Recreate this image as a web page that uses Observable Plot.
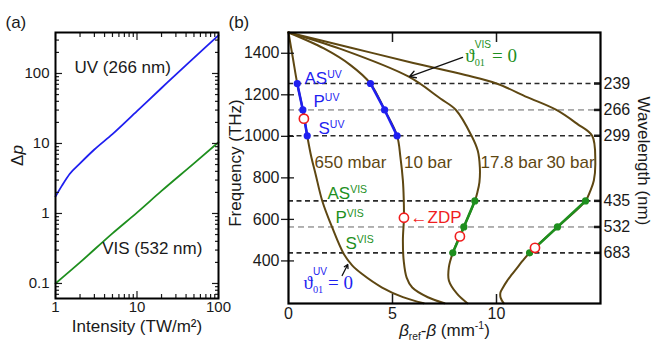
<!DOCTYPE html>
<html>
<head>
<meta charset="utf-8">
<script src="https://cdn.jsdelivr.net/npm/d3@7"></script>
<script src="https://cdn.jsdelivr.net/npm/@observablehq/plot@0.6"></script>
<style>
  html, body { margin: 0; padding: 0; background: #fff; }
  #fig { position: relative; width: 652px; height: 354px; overflow: hidden; background: #fff; }
  #fig > svg { position: absolute; top: 0; overflow: visible; }
</style>
</head>
<body>
<div id="fig"></div>
<script>
// ---------------- Panel (a) data ----------------
const intensityUV  = [1, 1.2, 1.5, 2, 3, 5, 10, 20, 40, 70, 100];
const deltaPUV     = [1.75, 2.5, 3.7, 5.2, 8.2, 13.6, 29, 62, 132, 240, 350];
const intensityVIS = [1, 2, 5, 10, 20, 50, 100];
const deltaPVIS    = [0.1, 0.2, 0.52, 1.03, 2.1, 5.2, 10.4];
const ticksIntensity = [1, 10, 100];
const ticksDeltaP    = [0.1, 1, 10, 100];
const seriesLabelsA  = ["UV (266 nm)", "VIS (532 nm)"];
const seriesLabelI   = [1.71, 3.74];
const seriesLabelP   = [122, 0.313];

// ---------------- Panel (b) data ----------------
const wavelengths   = [239, 266, 299, 435, 532, 683];      // nm (right axis)
const thickLines    = [239, 299, 435, 683];
const thinLines     = [266, 532];
const freqTicks     = [400, 600, 800, 1000, 1200, 1400];   // THz
const betaTicks     = [0, 5, 10];

// brown curves (x = beta_ref - beta in mm^-1, f = frequency in THz)
const p650X = [0, 0.21, 0.42, 0.69, 0.9, 1.1, 1.3, 1.62, 2.1, 2.66, 3.05, 3.54, 4.5, 5.5, 6.5];
const p650F = [1500, 1377, 1254.4, 1127, 1002.6, 899, 819, 690, 561, 433, 380, 337, 272, 226, 196];
const p10X  = [0, 1.7, 2.98, 3.94, 4.62, 5.22, 5.38, 5.5, 5.54, 5.55, 5.5, 5.54, 5.68, 5.95, 6.7, 7.5];
const p10F  = [1500, 1423, 1343, 1254.4, 1127, 1002.6, 900, 787, 700, 608, 500, 400, 320, 272, 225, 196];
const p178X = [0, 2.5, 5.78, 7.3, 8.05, 8.8, 9.1, 9.2, 9.18, 9.08, 8.96, 8.43, 7.9, 7.71, 7.71, 8.1, 8.6];
const p178F = [1500, 1421, 1287, 1182, 1127, 1002.6, 930, 850, 780, 730, 689.2, 563.5, 438.9, 370, 306, 242, 196];
const p30X  = [0, 3, 6, 8.5, 10.0, 11.47, 12.88, 13.88, 14.6, 14.75, 14.68, 14.5, 14.28, 12.93, 11.59, 11.25, 11.0, 10.7, 10.51, 10.3, 10.19, 10.2, 10.35];
const p30F  = [1500, 1427, 1353, 1295, 1254.4, 1189, 1127, 1060, 1002.6, 880, 787, 735, 689.2, 563.5, 438.9, 400, 368, 330, 304, 270, 248, 222, 196];

// phase-matched points (UV on 650 mbar & 10 bar, VIS on 17.8 bar & 30 bar)
const uvWaves  = [239, 266, 299];
const visWaves = [435, 532, 683];
const uv650X  = [0.42, 0.69, 0.9];
const uv10X   = [3.94, 4.62, 5.22];
const vis178X = [8.96, 8.43, 7.9];
const vis30X  = [14.28, 12.93, 11.59];

// zero-dispersion points (open red circles)
const zdpX = [0.74, 5.55, 8.24, 11.85];
const zdpF = [1085, 608, 518, 463];

// annotations (anchor positions in data units)
const uvText   = ["AS^{UV}", "P^{UV}", "S^{UV}"];
const uvTextX  = [0.77, 1.2, 1.44];
const uvTextF  = [1278, 1167, 1037];
const visText  = ["AS^{VIS}", "P^{VIS}", "S^{VIS}"];
const visTextX = [1.875, 2.26, 2.74];
const visTextF = [724, 608, 483];
const pressText  = ["650 mbar", "10 bar", "17.8 bar", "30 bar"];
const pressTextX = [1.25, 5.55, 9.23, 12.4];
const pressTextF = [874, 874, 874, 874];
const zdpLabel = {t: "←ZDP", x: 5.87, f: 608};
const thetaUV  = {t: "ϑ&{UV|01}= 0", x: 0.72, f: 296};
const thetaVIS = {t: "ϑ&{VIS|01}= 0", x: 8.5, f: 1389};
const arrowVIS = {x1: 8.37, f1: 1380, x2: 5.82, f2: 1288};
const arrowUV  = {x1: 2.58, f1: 330, x2: 2.85, f2: 383};

// ---------------- helpers ----------------
const C_NM_THZ = 299792.458;                 // c in nm·THz
const toF = w => C_NM_THZ / w;
const rows = (xs, fs) => xs.map((x, i) => ({x, f: fs[i]}));
const rowsT = (ts, xs, fs) => ts.map((t, i) => ({t, x: xs[i], f: fs[i]}));

const SANS  = '"Liberation Sans", Arimo, Arial, sans-serif';
const SERIF = '"Liberation Serif", "DejaVu Serif", serif';
const BROWN = "#5e4712", BLUE = "#1f1ff0", GREEN = "#1e8f1e", RED = "#f01e1e";
const DARK = "#1a1a1a";

const fig = document.getElementById("fig");

// ---------------- Panel (a) ----------------
const minorIntensity = [2,3,4,5,6,7,8,9].flatMap(m => [m, m * 10]);
const minorDeltaP = [0.01, 0.1, 1, 10, 100]
  .flatMap(p => [2,3,4,5,6,7,8,9].map(m => +(m * p).toPrecision(3)))
  .filter(v => v > 0.061 && v < 385);
const tk = {stroke: DARK, strokeWidth: 1.2, fill: "none", label: null};

const plotA = Plot.plot({
  width: 230, height: 354,
  marginLeft: 55, marginRight: 12, marginTop: 32, marginBottom: 56,
  style: {fontFamily: SANS, fontSize: "15px", color: DARK, background: "transparent", overflow: "visible"},
  x: {type: "log", domain: [1, 100], axis: null},
  y: {type: "log", domain: [0.061, 385], axis: null},
  marks: [
    Plot.line(rows(intensityUV, deltaPUV), {x: "x", y: "f", stroke: BLUE, strokeWidth: 1.8, curve: "monotone-x"}),
    Plot.line(rows(intensityVIS, deltaPVIS), {x: "x", y: "f", stroke: GREEN, strokeWidth: 1.8, curve: "monotone-x"}),
    Plot.text(rowsT(seriesLabelsA, seriesLabelI, seriesLabelP), {x: "x", y: "f", text: "t", textAnchor: "start", fontSize: 17, fill: DARK}),
    Plot.axisX({...tk, ticks: ticksIntensity, anchor: "bottom", tickSize: 7, dy: -7}),
    Plot.axisX({...tk, ticks: minorIntensity, anchor: "bottom", tickSize: 4, dy: -4}),
    Plot.axisX({...tk, ticks: ticksIntensity, anchor: "top", tickSize: 7, dy: 7}),
    Plot.axisX({...tk, ticks: minorIntensity, anchor: "top", tickSize: 4, dy: 4}),
    Plot.axisY({...tk, ticks: ticksDeltaP, anchor: "left", tickSize: 7, dx: 7}),
    Plot.axisY({...tk, ticks: minorDeltaP, anchor: "left", tickSize: 4, dx: 4}),
    Plot.axisY({...tk, ticks: ticksDeltaP, anchor: "right", tickSize: 7, dx: -7}),
    Plot.axisY({...tk, ticks: minorDeltaP, anchor: "right", tickSize: 4, dx: -4}),
    Plot.axisX({ticks: ticksIntensity, anchor: "bottom", tickSize: 0, tickPadding: 3, tickFormat: d => String(d), label: null, fontSize: 15}),
    Plot.axisY({ticks: ticksDeltaP, anchor: "left", tickSize: 0, tickPadding: 6, tickFormat: d => String(d), label: null, fontSize: 15}),
    Plot.frame({stroke: "#000", strokeWidth: 2}),
    Plot.text(["Intensity (TW/m²)"], {text: d => d, frameAnchor: "bottom", textAnchor: "middle", dy: 33, fontSize: 17, fill: DARK}),
    Plot.text(["Δ*{p}"], {text: d => d, frameAnchor: "left", textAnchor: "middle", dx: -38, dy: -10, rotate: -90, fontSize: 17, fill: DARK}),
    Plot.text(["(a)"], {text: d => d, frameAnchor: "top-left", dx: -50, dy: -17, textAnchor: "start", fontSize: 17, fill: DARK})
  ]
});
plotA.style.left = "0px";
fig.append(plotA);

// ---------------- Panel (b) ----------------
const waveLabel = new Map(wavelengths.map(w => [toF(w), String(w)]));
const plotB = Plot.plot({
  width: 422, height: 354,
  marginLeft: 58, marginRight: 52, marginTop: 32, marginBottom: 51,
  style: {fontFamily: SANS, fontSize: "16px", color: DARK, background: "transparent", overflow: "visible"},
  x: {domain: [0, 15], axis: null},
  y: {domain: [195, 1500], axis: null},
  marks: [
    Plot.ruleY(thickLines, {y: toF, stroke: "#2a2a2a", strokeWidth: 1.6, strokeDasharray: "5,3.5"}),
    Plot.ruleY(thinLines, {y: toF, stroke: "#555", strokeWidth: 0.9, strokeDasharray: "6,4"}),
    Plot.line(rows(p650X, p650F), {x: "x", y: "f", stroke: BROWN, strokeWidth: 2, curve: "catmull-rom"}),
    Plot.line(rows(p10X, p10F), {x: "x", y: "f", stroke: BROWN, strokeWidth: 2, curve: "catmull-rom"}),
    Plot.line(rows(p178X, p178F), {x: "x", y: "f", stroke: BROWN, strokeWidth: 2, curve: "catmull-rom"}),
    Plot.line(rows(p30X, p30F), {x: "x", y: "f", stroke: BROWN, strokeWidth: 2, curve: "catmull-rom"}),
    ...[[uv650X, uvWaves, BLUE], [uv10X, uvWaves, BLUE], [vis178X, visWaves, GREEN], [vis30X, visWaves, GREEN]].flatMap(([xs, ws, c]) => [
      Plot.line(rows(xs, ws.map(toF)), {x: "x", y: "f", stroke: c, strokeWidth: 2.6}),
      Plot.dot(rows(xs, ws.map(toF)), {x: "x", y: "f", r: 3.6, fill: c})
    ]),
    Plot.dot(rows(zdpX, zdpF), {x: "x", y: "f", r: 4.6, fill: "white", stroke: RED, strokeWidth: 1.6}),
    Plot.arrow([arrowVIS], {x1: "x1", y1: "f1", x2: "x2", y2: "f2", stroke: "#111", strokeWidth: 1.3, headLength: 8}),
    Plot.arrow([arrowUV], {x1: "x1", y1: "f1", x2: "x2", y2: "f2", stroke: "#111", strokeWidth: 1.3, headLength: 6}),
    Plot.text(rowsT(uvText, uvTextX, uvTextF), {x: "x", y: "f", text: "t", textAnchor: "start", fontSize: 17, fill: BLUE}),
    Plot.text(rowsT(visText, visTextX, visTextF), {x: "x", y: "f", text: "t", textAnchor: "start", fontSize: 17, fill: GREEN}),
    Plot.text(rowsT(pressText, pressTextX, pressTextF), {x: "x", y: "f", text: "t", textAnchor: "start", fontSize: 17, fill: BROWN}),
    Plot.text([zdpLabel], {x: "x", y: "f", text: "t", textAnchor: "start", fontSize: 17, fill: RED}),
    Plot.text([thetaUV], {x: "x", y: "f", text: "t", textAnchor: "start", fontSize: 19, fontFamily: SERIF, fill: BLUE}),
    Plot.text([thetaVIS], {x: "x", y: "f", text: "t", textAnchor: "start", fontSize: 19, fontFamily: SERIF, fill: GREEN}),
    // axes
    Plot.axisY({stroke: DARK, fill: "none", label: null, ticks: freqTicks, anchor: "left", tickSize: 13, dx: 6, strokeWidth: 1.3}),
    Plot.axisY({ticks: freqTicks, anchor: "left", tickSize: 0, tickPadding: 9, tickFormat: d => String(d), label: null, fontSize: 16}),
    Plot.axisX({stroke: DARK, fill: "none", label: null, ticks: [5, 10], anchor: "bottom", tickSize: 9, dy: -9, strokeWidth: 1.5}),
    Plot.axisX({stroke: DARK, fill: "none", label: null, ticks: [5, 10], anchor: "top", tickSize: 9, dy: 9, strokeWidth: 1.5}),
    Plot.axisX({ticks: betaTicks, anchor: "bottom", tickSize: 0, tickPadding: 4, tickFormat: d => String(d), label: null, fontSize: 16}),
    Plot.axisY({stroke: DARK, fill: "none", label: null, ticks: wavelengths.map(toF), anchor: "right", tickSize: 7, dx: -7, strokeWidth: 2.5}),
    Plot.axisY({ticks: wavelengths.map(toF), anchor: "right", tickSize: 0, tickPadding: 3, tickFormat: f => waveLabel.get(f), label: null, fontSize: 16}),
    Plot.frame({stroke: "#000", strokeWidth: 2.2}),
    Plot.text(["Frequency (THz)"], {text: d => d, frameAnchor: "left", textAnchor: "middle", dx: -53, dy: -5, rotate: -90, fontSize: 17, fill: DARK}),
    Plot.text(["Wavelength (nm)"], {text: d => d, frameAnchor: "right", textAnchor: "middle", dx: 43, dy: -7, rotate: 90, fontSize: 17, fill: DARK}),
    Plot.text(["*{β}_{ref}-*{β} (mm^{-1})"], {text: d => d, frameAnchor: "bottom", textAnchor: "middle", dy: 32, fontSize: 17, fill: DARK}),
    Plot.text(["(b)"], {text: d => d, frameAnchor: "top-left", dx: -60, dy: -17, textAnchor: "start", fontSize: 17, fill: DARK})
  ]
});
plotB.style.left = "230px";
fig.append(plotB);

// ---------------- rich text (super/subscripts, stacked scripts, italics) ----------------
function richify(root) {
  const NS = "http://www.w3.org/2000/svg";
  root.querySelectorAll("text").forEach(t => {
    const s = t.textContent;
    if (!/([\^_*&])\{/.test(s)) return;
    const fs = parseFloat(getComputedStyle(t).fontSize) || 16;
    while (t.firstChild) t.removeChild(t.firstChild);
    const re = /([\^_*])\{([^}]*)\}|&\{([^|}]*)\|([^}]*)\}|([^\^_*&]+)/g;
    let m, cur = 0, pendingDx = 0;
    const add = (txt, target, attrs = {}) => {
      const ts = document.createElementNS(NS, "tspan");
      for (const k in attrs) ts.setAttribute(k, attrs[k]);
      const d = target - cur;
      if (d) ts.setAttribute("dy", d.toFixed(1));
      if (pendingDx) { ts.setAttribute("dx", pendingDx.toFixed(1)); pendingDx = 0; }
      cur = target;
      ts.textContent = txt;
      t.appendChild(ts);
      return ts;
    };
    while ((m = re.exec(s))) {
      if (m[1] === "^") add(m[2], -0.36 * fs, {"font-size": (0.62 * fs).toFixed(1)});
      else if (m[1] === "_") add(m[2], 0.28 * fs, {"font-size": (0.6 * fs).toFixed(1)});
      else if (m[1] === "*") add(m[2], 0, {"font-style": "italic"});
      else if (m[3] !== undefined) {
        // stacked superscript (sans) above subscript (serif)
        const sup = add(m[3], -0.72 * fs, {"font-size": (0.53 * fs).toFixed(1), "font-family": SANS});
        const wSup = sup.getComputedTextLength();
        const sub = add(m[4], 0.22 * fs, {"font-size": (0.54 * fs).toFixed(1)});
        sub.setAttribute("dx", (-wSup).toFixed(1));
        const wSub = sub.getComputedTextLength();
        pendingDx = Math.max(0, wSup - wSub) + 1;
      }
      else add(m[5], 0);
    }
  });
}
richify(fig);
</script>
</body>
</html>
